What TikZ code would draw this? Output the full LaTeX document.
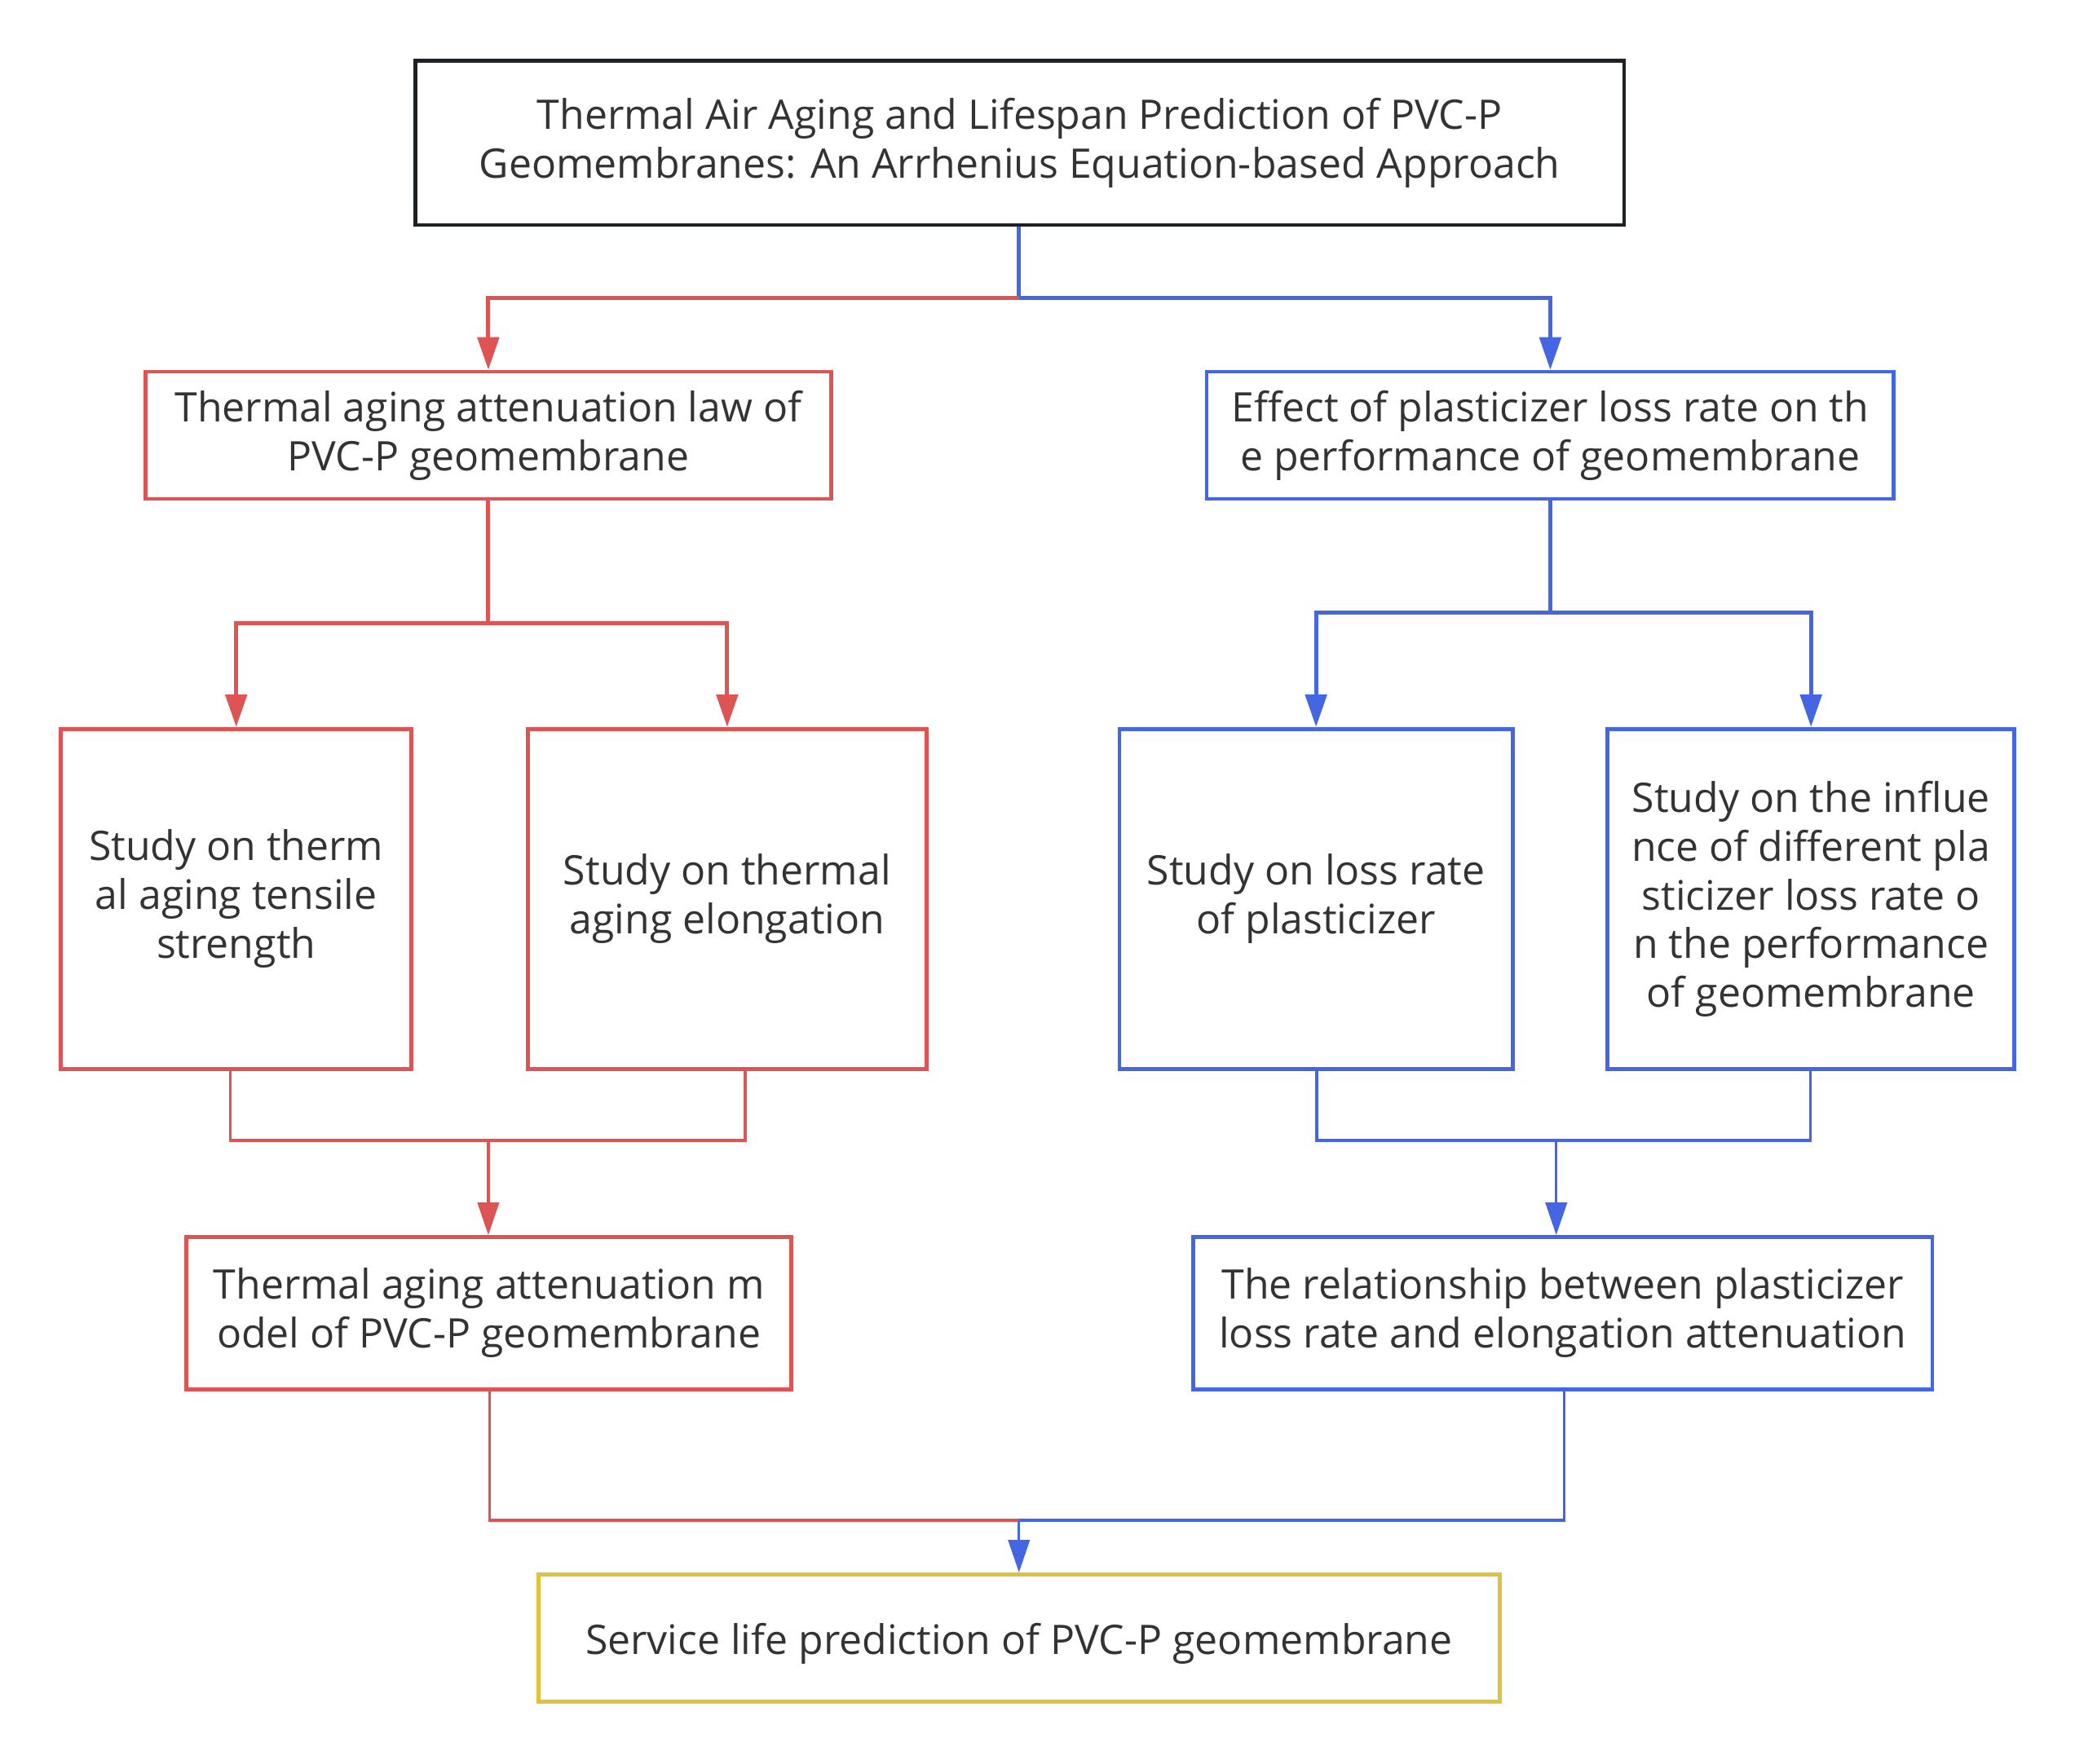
\documentclass[tikz,border=0pt]{standalone}
\usepackage{fontspec}
\setmainfont{Open Sans}
\usepackage{tikz}
\usetikzlibrary{arrows.meta}

\definecolor{boxred}{RGB}{222,84,84}
\definecolor{boxblue}{RGB}{68,102,226}
\definecolor{boxyellow}{RGB}{222,194,60}
\definecolor{boxblack}{RGB}{30,34,36}
\definecolor{txtgray}{RGB}{51,51,51}

\tikzset{
  box/.style={draw,rectangle,line width=0.85pt,align=center,inner sep=0pt,
    text=txtgray,font=\fontsize{8.75}{10.5}\selectfont,
    execute at begin node={\rule{0pt}{9pt}}},
  redbox/.style={box,draw=boxred},
  bluebox/.style={box,draw=boxblue},
  redline/.style={draw=boxred,line width=0.85pt},
  blueline/.style={draw=boxblue,line width=0.85pt},
  tip/.style={-{Triangle[length=7pt,width=4.6pt]}}
}

\begin{document}
\begin{tikzpicture}[x=0.01cm,y=-0.01cm]
\useasboundingbox (0,0) rectangle (1568,1333);

\node [box,draw=boxblack,minimum width=9.13cm,minimum height=1.24cm] (title) at(770.5,108)
  {Thermal Air Aging and Lifespan Prediction of PVC-P\\Geomembranes: An Arrhenius Equation-based Approach};

\node [redbox,minimum width=5.18cm,minimum height=0.96cm] (law) at(369,329)
  {Thermal aging attenuation law of\\PVC-P geomembrane};
\node [bluebox,minimum width=5.19cm,minimum height=0.96cm] (effect) at(1171.5,329)
  {Effect of plasticizer loss rate on th\\e performance of geomembrane};

\node [redbox,minimum width=2.65cm,minimum height=2.57cm] (tensile) at(178.5,679.5)
  {Study on therm\\al aging tensile\\strength};
\node [redbox,minimum width=3.01cm,minimum height=2.57cm] (elong) at(549.5,679.5)
  {Study on thermal\\aging elongation};
\node [bluebox,minimum width=2.97cm,minimum height=2.57cm] (loss) at(994.5,679.5)
  {Study on loss rate\\of plasticizer};
\node [bluebox,minimum width=3.07cm,minimum height=2.57cm] (infl) at(1368.5,679.5)
  {Study on the influe\\nce of different pla\\sticizer loss rate o\\n the performance\\of geomembrane};

\node [redbox,minimum width=4.57cm,minimum height=1.15cm] (model) at(369.5,992.5)
  {Thermal aging attenuation m\\odel of PVC-P geomembrane};
\node [bluebox,minimum width=5.58cm,minimum height=1.15cm] (relat) at(1181,992.5)
  {The relationship between plasticizer\\loss rate and elongation attenuation};

\node [box,draw=boxyellow,minimum width=7.26cm,minimum height=0.96cm] (life) at(770,1238)
  {Service life prediction of PVC-P geomembrane};

% bend points
\coordinate (split) at(770,225);
\coordinate (lawsplit) at(369,471);
\coordinate (effsplit) at(1171.5,463);
\coordinate (tensout) at(174,808);
\coordinate (elongout) at(563,808);
\coordinate (lossout) at(995,808);
\coordinate (inflout) at(1368,808);
\coordinate (redjoin) at(369,862);
\coordinate (bluejoin) at(1176,862);
\coordinate (modelout) at(370,1050);
\coordinate (relatout) at(1182,1050);
\coordinate (lifejoin) at(770,1149);

\draw[blueline](title.south -| split) -- (split);
\draw[redline,tip](split) -| (law.north);
\draw[blueline,tip](split) -| (effect.north);

\draw[redline](law.south) -- (lawsplit);
\draw[redline,tip](lawsplit) -| (tensile.north);
\draw[redline,tip](lawsplit) -| (elong.north);

\draw[blueline](effect.south) -- (effsplit);
\draw[blueline,tip](effsplit) -| (loss.north);
\draw[blueline,tip](effsplit) -| (infl.north);

\draw[redline,line width=0.6pt](tensout) |- (redjoin) -| (elongout);
\draw[redline,line width=0.6pt,tip](redjoin) -- (redjoin |- model.north);

\draw[blueline,line width=0.6pt](lossout) |- (bluejoin) -| (inflout);
\draw[blueline,line width=0.6pt,tip](bluejoin) -- (bluejoin |- relat.north);

\draw[redline,line width=0.6pt](modelout) |- (lifejoin);
\draw[blueline,line width=0.6pt](relatout) |- (lifejoin);
\draw[blueline,line width=0.6pt,tip](lifejoin) -- (life.north);

\end{tikzpicture}
\end{document}
